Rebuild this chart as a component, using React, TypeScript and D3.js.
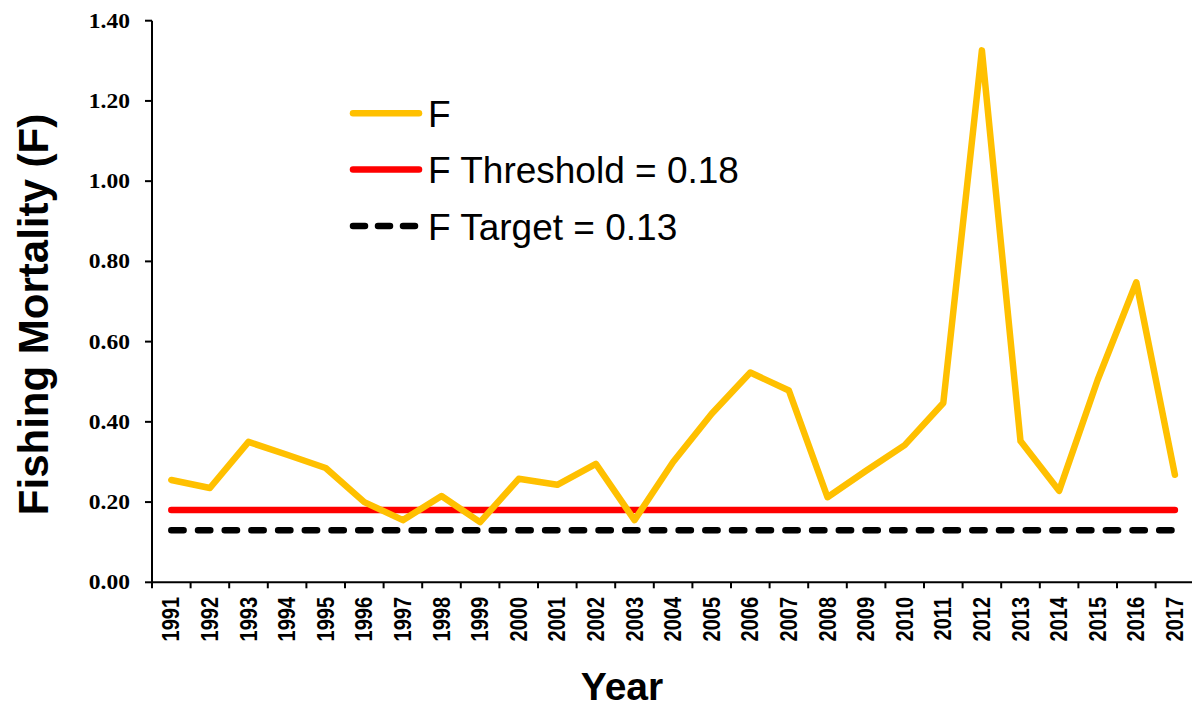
import React from "react";
import * as d3 from "d3";

const years = [
  "1991","1992","1993","1994","1995","1996","1997","1998","1999","2000",
  "2001","2002","2003","2004","2005","2006","2007","2008","2009","2010",
  "2011","2012","2013","2014","2015","2016","2017",
];
const fValues = [
  0.255, 0.235, 0.35, 0.318, 0.285, 0.2, 0.155, 0.215, 0.15, 0.258,
  0.243, 0.295, 0.155, 0.3, 0.42, 0.523, 0.478, 0.212, 0.278, 0.342,
  0.447, 1.326, 0.352, 0.228, 0.505, 0.748, 0.268,
];
const fThreshold = 0.18;
const fTarget = 0.13;
const yTicks = [0, 0.2, 0.4, 0.6, 0.8, 1.0, 1.2, 1.4];
const legendLabels = ["F", "F Threshold = 0.18", "F Target = 0.13"];

const W = 1192;
const H = 709;
const left = 152;
const bandW = 38.6;
const x0 = 582.3;

export default function App() {
  const x = d3
    .scaleBand<string>()
    .domain(years)
    .range([left, left + bandW * years.length])
    .padding(0);
  const y = d3.scaleLinear().domain([0, 1.4]).range([x0, 20.7]);
  const cx = (yr: string) => (x(yr) as number) + x.bandwidth() / 2;

  const line = d3
    .line<number>()
    .x((_, i) => cx(years[i]))
    .y((d) => y(d));

  const xFirst = cx(years[0]);
  const xLast = cx(years[years.length - 1]);

  const legendColors = ["#FFC000", "#FF0000", "#000000"];
  const legendY = [113.3, 169.5, 226];

  return (
    <div style={{ position: "absolute", left: 0, top: 0 }}>
      <svg width={W} height={H} style={{ display: "block", background: "#fff" }}>
        {/* axes */}
        <line x1={left} x2={left} y1={20.7} y2={x0} stroke="#000" strokeWidth={2} />
        <line x1={left} x2={W} y1={x0} y2={x0} stroke="#000" strokeWidth={2} />
        {yTicks.map((t) => (
          <g key={t}>
            <line x1={left - 7} x2={left} y1={y(t)} y2={y(t)} stroke="#000" strokeWidth={2} />
            <text
              transform={`translate(130,${y(t) + 7}) scale(1.12,1)`}
              textAnchor="end"
              fontFamily="'Liberation Serif', 'Times New Roman', serif"
              fontWeight="bold"
              fontSize={21}
              fill="#000"
            >
              {t.toFixed(2)}
            </text>
          </g>
        ))}
        {years.map((yr) => (
          <line
            key={"t" + yr}
            x1={x(yr) as number}
            x2={x(yr) as number}
            y1={x0}
            y2={x0 + 6}
            stroke="#000"
            strokeWidth={2}
          />
        ))}
        {years.map((yr) => (
          <text
            key={"l" + yr}
            transform={`translate(${cx(yr) + 8},${597}) scale(1.15,1) rotate(-90)`}
            textAnchor="end"
            fontFamily="'Liberation Sans', Arial, sans-serif"
            fontWeight="bold"
            fontSize={20}
            fill="#000"
          >
            {yr}
          </text>
        ))}

        {/* reference lines */}
        <line
          x1={xFirst}
          x2={xLast}
          y1={y(fThreshold)}
          y2={y(fThreshold)}
          stroke="#FF0000"
          strokeWidth={6.5}
          strokeLinecap="round"
        />
        <line
          x1={xFirst}
          x2={xLast}
          y1={y(fTarget)}
          y2={y(fTarget)}
          stroke="#000"
          strokeWidth={6.5}
          strokeLinecap="round"
          strokeDasharray="12.3 14.4"
        />
        {/* F series */}
        <path
          d={line(fValues) || ""}
          fill="none"
          stroke="#FFC000"
          strokeWidth={6.5}
          strokeLinejoin="round"
          strokeLinecap="round"
        />

        {/* legend */}
        {legendLabels.map((lab, i) => (
          <g key={lab}>
            <line
              x1={353}
              x2={419}
              y1={legendY[i]}
              y2={legendY[i]}
              stroke={legendColors[i]}
              strokeWidth={6.5}
              strokeLinecap="round"
              strokeDasharray={i === 2 ? "12 13" : undefined}
            />
            <text
              x={428}
              y={legendY[i] + 13.5}
              fontFamily="'Liberation Sans', Arial, sans-serif"
              fontSize={37}
              fill="#000"
            >
              {lab}
            </text>
          </g>
        ))}

        {/* titles */}
        <text
          transform={`translate(48,${314.5}) rotate(-90)`}
          textAnchor="middle"
          fontFamily="'Liberation Sans', Arial, sans-serif"
          fontWeight="bold"
          fontSize={42}
          fill="#000"
        >
          Fishing Mortality (F)
        </text>
        <text
          x={622}
          y={700}
          textAnchor="middle"
          fontFamily="'Liberation Sans', Arial, sans-serif"
          fontWeight="bold"
          fontSize={39}
          fill="#000"
        >
          Year
        </text>
      </svg>
    </div>
  );
}
